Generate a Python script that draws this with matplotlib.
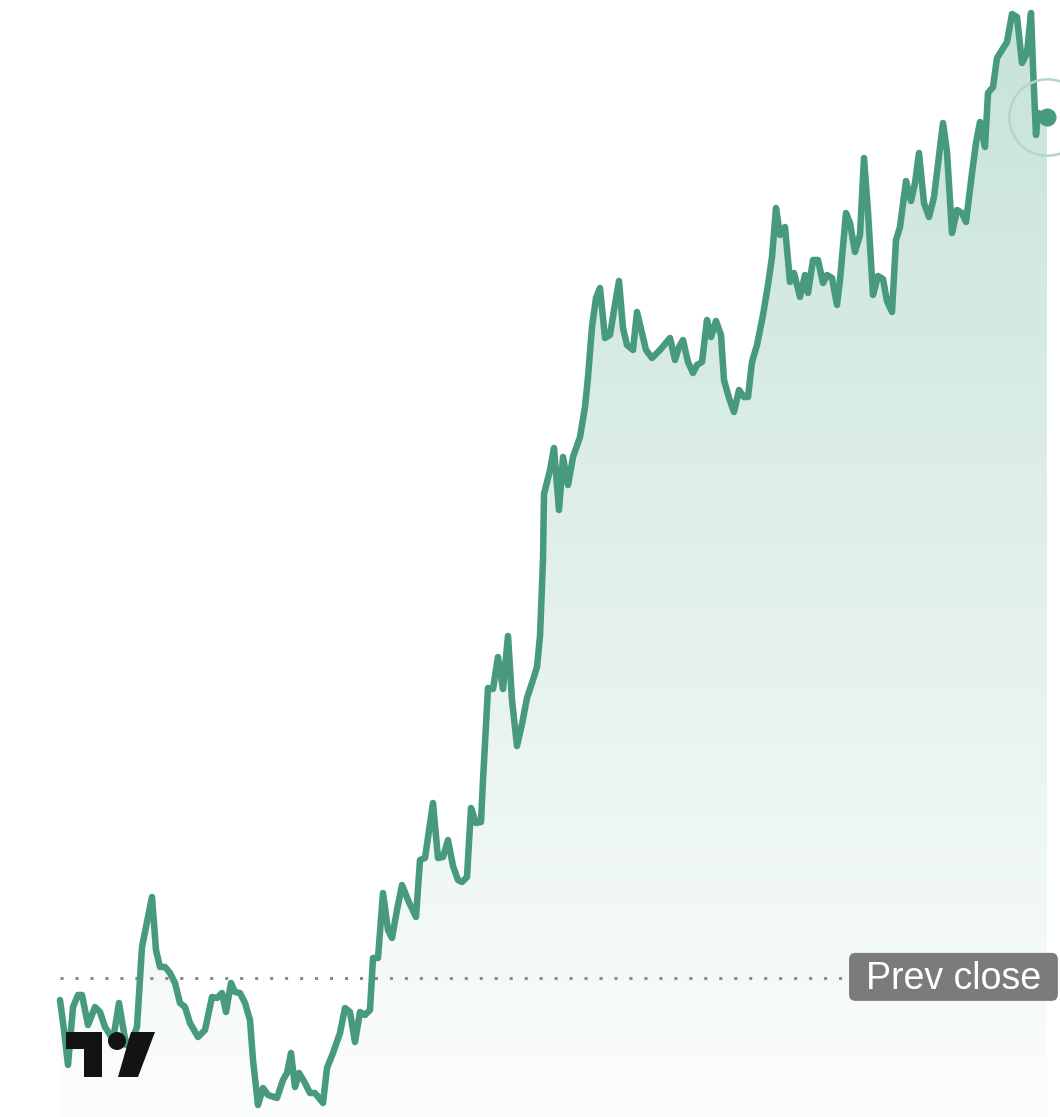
import numpy as np
import matplotlib
matplotlib.use("Agg")
import matplotlib.pyplot as plt
from matplotlib.patches import Polygon, Circle, FancyBboxPatch

# intraday series (tick index, price)
ticks = [
    0, 4, 8, 13, 18, 22, 28, 35, 40, 45,
    47, 53, 59, 63, 66, 72, 77, 82, 92, 96,
    100, 105, 110, 115, 120, 125, 130, 138, 145, 152,
    157, 162, 166, 171, 175, 180, 185, 190, 193, 198,
    203, 208, 217, 223, 227, 231, 235, 239, 245, 250,
    255, 263, 267, 273, 280, 285, 290, 295, 300, 305,
    310, 313, 318, 323, 328, 332, 337, 342, 348, 356,
    360, 365, 373, 378, 383, 388, 393, 398, 402, 407,
    411, 416, 421, 423, 428, 433, 438, 443, 448, 452,
    457, 462, 467, 472, 477, 480, 483, 484, 490, 494,
    499, 503, 508, 513, 520, 525, 528, 532, 536, 540,
    545, 550, 554, 559, 563, 567, 573, 577, 582, 586,
    592, 600, 610, 615, 619, 623, 628, 633, 637, 642,
    647, 651, 656, 661, 664, 669, 674, 679, 684, 688,
    692, 697, 703, 708, 712, 716, 720, 725, 730, 734,
    740, 745, 748, 753, 758, 763, 767, 772, 777, 780,
    786, 790, 795, 800, 804, 808, 813, 818, 823, 827,
    832, 836, 840, 846, 851, 855, 859, 864, 869, 874,
    878, 883, 887, 892, 897, 902, 906, 912, 916, 920,
    925, 928, 933, 937, 942, 947, 952, 957, 962, 967,
    971, 973, 976, 978, 983, 987,
]
prices = [
    49.78, 49.48, 49.13, 49.71, 49.83, 49.83, 49.53, 49.71, 49.66, 49.51,
    49.48, 49.38, 49.75, 49.51, 49.33, 49.38, 49.51, 50.31, 50.81, 50.28,
    50.11, 50.11, 50.05, 49.95, 49.75, 49.71, 49.55, 49.41, 49.48, 49.81,
    49.80, 49.85, 49.66, 49.95, 49.86, 49.85, 49.75, 49.58, 49.18, 48.73,
    48.90, 48.83, 48.80, 48.98, 49.05, 49.25, 48.91, 49.05, 48.95, 48.85,
    48.85, 48.75, 49.10, 49.25, 49.45, 49.70, 49.66, 49.36, 49.66, 49.63,
    49.68, 50.20, 50.20, 50.85, 50.48, 50.40, 50.68, 50.93, 50.78, 50.61,
    51.18, 51.20, 51.75, 51.20, 51.21, 51.38, 51.12, 50.98, 50.96, 51.01,
    51.70, 51.55, 51.56, 51.98, 52.90, 52.89, 53.21, 52.89, 53.42, 52.78,
    52.32, 52.54, 52.80, 52.95, 53.11, 53.42, 54.18, 54.84, 55.08, 55.30,
    54.68, 55.21, 54.93, 55.21, 55.41, 55.71, 56.01, 56.51, 56.80, 56.90,
    56.40, 56.43, 56.68, 56.97, 56.50, 56.33, 56.28, 56.66, 56.45, 56.28,
    56.20, 56.28, 56.40, 56.18, 56.31, 56.38, 56.16, 56.05, 56.13, 56.16,
    56.58, 56.41, 56.57, 56.43, 55.98, 55.80, 55.66, 55.88, 55.81, 55.81,
    56.16, 56.33, 56.63, 56.93, 57.21, 57.70, 57.43, 57.51, 56.96, 57.05,
    56.81, 57.03, 56.85, 57.18, 57.18, 56.95, 57.03, 57.00, 56.73, 56.98,
    57.65, 57.55, 57.26, 57.43, 58.20, 57.66, 56.83, 57.02, 56.99, 56.77,
    56.66, 57.38, 57.51, 57.97, 57.77, 57.95, 58.25, 57.75, 57.61, 57.81,
    58.14, 58.55, 58.26, 57.45, 57.68, 57.65, 57.56, 58.05, 58.35, 58.56,
    58.31, 58.85, 58.91, 59.20, 59.28, 59.36, 59.64, 59.61, 59.15, 59.25,
    59.65, 59.11, 58.43, 58.65, 58.63, 58.61,
]
prev_close = 50.00
prev_label = "Prev close"

# colours
line_color = "#479a80"
fill_rgb = (0.28, 0.63, 0.54)
dot_gray = "#8a8a8a"
label_bg = "#7b7b7b"

W, H = 1060, 1117
fig = plt.figure(figsize=(W / 100, H / 100), dpi=100)
ax = fig.add_axes([0, 0, 1, 1])
xlim = (-60, 1000)
ylim = (48.61, 59.78)
ax.set_xlim(*xlim)
ax.set_ylim(*ylim)
ax.axis("off")

# gradient area under the line
poly = ax.fill_between(ticks, prices, ylim[0], color="none", lw=0)
grad = np.zeros((256, 1, 4))
grad[:, 0, 0] = fill_rgb[0]
grad[:, 0, 1] = fill_rgb[1]
grad[:, 0, 2] = fill_rgb[2]
grad[:, 0, 3] = np.linspace(0.02, 0.31, 256)
img = ax.imshow(grad, extent=[xlim[0], xlim[1], ylim[0], ylim[1]],
                origin="lower", aspect="auto", zorder=1)
img.set_clip_path(poly.get_paths()[0], transform=ax.transData)

# prev close dotted line
ax.plot([0, 785], [prev_close, prev_close], color=dot_gray, lw=2.2,
        linestyle=(0, (1, 3.9)), solid_capstyle="butt", zorder=2)

# price line
ax.plot(ticks, prices, color=line_color, lw=4.7, solid_joinstyle="round",
        solid_capstyle="round", zorder=3)

# last price marker
ax.plot(ticks[-1], prices[-1], "o", ms=55, mfc="none", mec="#b5d5cc",
        mew=1.8, zorder=4, clip_on=False)
ax.plot(ticks[-1], prices[-1], "o", ms=12, color=line_color, zorder=5)

# prev close label box
yfrac = (prev_close - ylim[0]) / (ylim[1] - ylim[0])
box = FancyBboxPatch((0.801, yfrac - 0.0205), 0.197, 0.043,
                     boxstyle="round,pad=0,rounding_size=0.006",
                     transform=ax.transAxes, fc=label_bg, ec="none",
                     zorder=6)
ax.add_patch(box)
ax.text(0.8995, yfrac - 0.0005, prev_label, transform=ax.transAxes,
        ha="center", va="center", color="white", fontsize=27,
        family=["Liberation Sans", "DejaVu Sans"], zorder=7)


# TradingView style logo, in figure pixels
def px(x, y):
    return (x / W, 1 - y / H)


logo_color = "#131313"
t_shape = [px(66, 1032), px(102, 1032), px(102, 1077), px(84, 1077),
           px(84, 1049), px(66, 1049)]
slash = [px(131, 1032), px(155, 1032), px(138, 1077), px(118, 1077)]
fig.patches.append(Polygon(t_shape, closed=True, fc=logo_color, ec="none",
                           transform=fig.transFigure, zorder=10))
fig.patches.append(Polygon(slash, closed=True, fc=logo_color, ec="none",
                           transform=fig.transFigure, zorder=10))
fig.patches.append(Circle((117, H - 1041), 9, fc=logo_color, ec="none",
                          transform=None, zorder=10))

fig.savefig("out.png", dpi=100, facecolor="white")
